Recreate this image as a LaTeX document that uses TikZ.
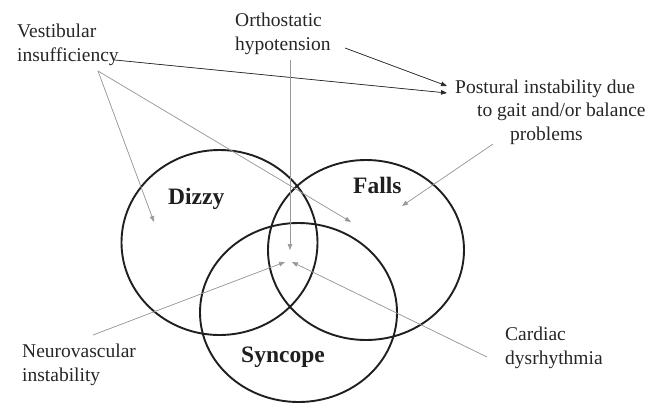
\documentclass[tikz,border=0pt]{standalone}
\usepackage{fontspec}
\setmainfont{Liberation Serif}
\usetikzlibrary{arrows.meta}
\tikzset{
  lbl/.style={anchor=base west, inner sep=0pt, align=left,
    font=\fontsize{19.5}{23.5}\selectfont, text=black!85},
  setname/.style={anchor=base west, inner sep=0pt,
    font=\fontsize{23.5}{28}\selectfont\bfseries, text=black!88},
  setring/.style={line width=1.9pt, draw=black!88},
  darkarrow/.style={-{Triangle[length=6pt,width=4.5pt]}, line width=0.7pt, draw=black!85, fill=black!85},
  greyarrow/.style={-{Triangle[length=6pt,width=4.5pt]}, line width=0.7pt, draw=black!40, fill=black!40},
}
\begin{document}
\begin{tikzpicture}[x=1pt,y=-1pt]
  \useasboundingbox (0,0) rectangle (662,405);

  % the three sets
  \coordinate (dizzyc) at (219.5,242.5);
  \coordinate (fallsc) at (366,250);
  \coordinate (syncc) at (298.5,312.5);
  \draw[setring] (dizzyc) ellipse (98 and 92.5);
  \draw[setring] (fallsc) ellipse (98 and 90);
  \draw[setring] (syncc) ellipse (98.5 and 89.5);

  \node[setname] (dizzy) at (168,204) {Dizzy};
  \node[setname] (falls) at (353,193) {Falls};
  \node[setname] (syncope) at (241,362) {Syncope};

  % causes (placed at the baseline of their last line)
  \node[lbl] (vest) at (17,61) {Vestibular\\insufficiency};
  \node[lbl] (ortho) at (235,50) {Orthostatic\\hypotension};
  \node[lbl] (post) at (455,140) {Postural instability due\\\hspace*{22pt}to gait and/or balance\\\hspace*{55pt}problems};
  \node[lbl] (neuro) at (22,381) {Neurovascular\\instability};
  \node[lbl] (card) at (505,364) {Cardiac\\dysrhythmia};

  % ends of the connectors
  \coordinate (vestA) at (115,60);
  \coordinate (vestB) at (98,71);
  \coordinate (orthoA) at (345,48);
  \coordinate (orthoB) at (290,60);
  \coordinate (postA) at (493,144);
  \coordinate (neuroA) at (93,335);
  \coordinate (cardA) at (487,357);
  \coordinate (tipPa) at (447,86);
  \coordinate (tipPb) at (447,93);
  \coordinate (tipD) at (154,222);
  \coordinate (tipF) at (351,222);
  \coordinate (tipO) at (290,250);
  \coordinate (tipN) at (285,262);
  \coordinate (tipC) at (292,262);
  \coordinate (tipP) at (402,206);

  \draw[darkarrow] (orthoA) -- (tipPa);
  \draw[darkarrow] (vestA) -- (tipPb);
  \draw[greyarrow] (vestB) -- (tipD);
  \draw[greyarrow] (vestB) -- (tipF);
  \draw[greyarrow] (orthoB) -- (tipO);
  \draw[greyarrow] (neuroA) -- (tipN);
  \draw[greyarrow] (cardA) -- (tipC);
  \draw[greyarrow] (postA) -- (tipP);
\end{tikzpicture}
\end{document}
